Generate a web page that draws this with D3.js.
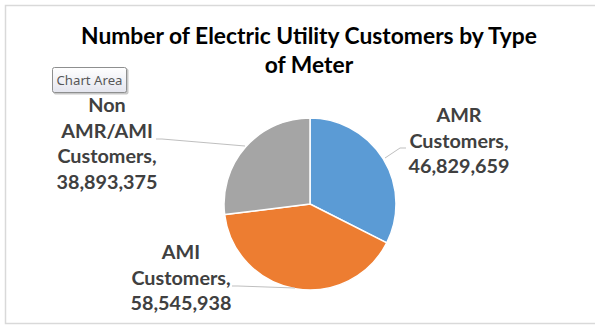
<!DOCTYPE html>
<html>
<head>
<meta charset="utf-8">
<script src="https://cdn.jsdelivr.net/npm/d3@7"></script>
<style>
  html, body { margin: 0; padding: 0; background: #fff; }
  svg { display: block; }
</style>
</head>
<body>
<svg id="chart" width="595" height="335"></svg>
<script>
// Electric utility customers by meter type
const categories = ["AMR Customers", "AMI Customers", "Non AMR/AMI Customers"];
const customers = [46829659, 58545938, 38893375];
const labelLines = [
  ["AMR", "Customers,"],
  ["AMI", "Customers,"],
  ["Non", "AMR/AMI", "Customers,"]
];
const colors = ["#5B9BD5", "#ED7D31", "#A5A5A5"];

const svg = d3.select("#chart");
const W = 595, H = 335;
const fmt = d3.format(",");

// chart frame
svg.append("rect")
  .attr("x", 5.5).attr("y", 5.5)
  .attr("width", W + 10).attr("height", 318)
  .attr("fill", "#fff").attr("stroke", "#d9d9d9").attr("stroke-width", 1.5);

// title
const title = svg.append("text")
  .attr("text-anchor", "middle")
  .attr("font-family", "Lato, 'Open Sans', sans-serif")
  .attr("font-weight", "bold")
  .attr("font-size", 22.8)
  .attr("fill", "#000");
title.append("tspan").attr("x", 309).attr("y", 44).text("Number of Electric Utility Customers by Type");
title.append("tspan").attr("x", 309).attr("y", 73).text("of Meter");

// pie
const cx = 310, cy = 204, r = 86;
const pie = d3.pie().sort(null).value(d => d)(customers);
const arc = d3.arc().innerRadius(0).outerRadius(r);
const g = svg.append("g").attr("transform", `translate(${cx},${cy})`);
g.selectAll("path").data(pie).join("path")
  .attr("d", arc)
  .attr("fill", (d, i) => colors[i])
  .attr("stroke", "#fff")
  .attr("stroke-width", 1.5);

// data labels with leader lines
const labelPos = [
  { x: 459, y: 122, leader: [[406, 148], [400, 148], [385, 158]] },
  { x: 181, y: 259, leader: [[232, 286], [238, 286], [295, 288]] },
  { x: 107, y: 112, leader: [[156, 139], [162, 139], [245, 146]] }
];
const lineStep = 25.5;

labelPos.forEach((p, i) => {
  svg.append("path")
    .attr("d", d3.line()(p.leader))
    .attr("fill", "none")
    .attr("stroke", "#bfbfbf")
    .attr("stroke-width", 1);
  const t = svg.append("text")
    .attr("text-anchor", "middle")
    .attr("font-family", "Lato, 'Open Sans', sans-serif")
    .attr("font-weight", "bold")
    .attr("font-size", 19.8)
    .attr("fill", "#404040");
  const lines = labelLines[i].concat([fmt(customers[i])]);
  lines.forEach((s, k) => {
    t.append("tspan").attr("x", p.x).attr("y", p.y + k * lineStep).text(s);
  });
});

// "Chart Area" tooltip box
const tip = svg.append("g").attr("transform", "translate(52,67)");
const grad = svg.append("defs").append("linearGradient")
  .attr("id", "tipGrad").attr("x1", 0).attr("y1", 0).attr("x2", 0).attr("y2", 1);
grad.append("stop").attr("offset", 0).attr("stop-color", "#ffffff");
grad.append("stop").attr("offset", 1).attr("stop-color", "#e4e5ee");
tip.append("rect")
  .attr("x", 1.5).attr("y", 1.5).attr("width", 75).attr("height", 26)
  .attr("rx", 2).attr("fill", "#c8c8c8");
tip.append("rect")
  .attr("x", 0.5).attr("y", 0.5).attr("width", 74).attr("height", 25)
  .attr("rx", 2).attr("fill", "url(#tipGrad)").attr("stroke", "#8e8f8f");
tip.append("text")
  .attr("x", 37.5).attr("y", 18)
  .attr("text-anchor", "middle")
  .attr("font-family", "'Noto Sans', sans-serif")
  .attr("font-size", 13.2)
  .attr("fill", "#575757")
  .text("Chart Area");
</script>
</body>
</html>
